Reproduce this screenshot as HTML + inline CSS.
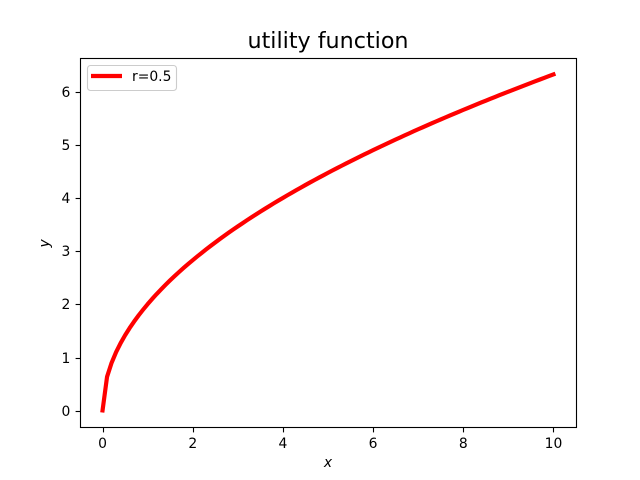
<!DOCTYPE html>
<html>
<head>
<meta charset="utf-8">
<style>
html,body{margin:0;padding:0;background:#fff;}
svg{display:block;}
text{font-family:"DejaVu Sans","Liberation Sans",sans-serif;fill:#000;}
</style>
</head>
<body>
<svg id="chart" xmlns="http://www.w3.org/2000/svg" width="640" height="480" viewBox="0 0 640 480"></svg>
<script>
const xValues = [0,0.1,0.2,0.3,0.4,0.5,0.6,0.7,0.8,0.9,1,1.1,1.2,1.3,1.4,1.5,1.6,1.7,1.8,1.9,2,2.1,2.2,2.3,2.4,2.5,2.6,2.7,2.8,2.9,3,3.1,3.2,3.3,3.4,3.5,3.6,3.7,3.8,3.9,4,4.1,4.2,4.3,4.4,4.5,4.6,4.7,4.8,4.9,5,5.1,5.2,5.3,5.4,5.5,5.6,5.7,5.8,5.9,6,6.1,6.2,6.3,6.4,6.5,6.6,6.7,6.8,6.9,7,7.1,7.2,7.3,7.4,7.5,7.6,7.7,7.8,7.9,8,8.1,8.2,8.3,8.4,8.5,8.6,8.7,8.8,8.9,9,9.1,9.2,9.3,9.4,9.5,9.6,9.7,9.8,9.9,10];
const yValues = [0,0.632,0.894,1.095,1.265,1.414,1.549,1.673,1.789,1.897,2,2.098,2.191,2.28,2.366,2.449,2.53,2.608,2.683,2.757,2.828,2.898,2.966,3.033,3.098,3.162,3.225,3.286,3.347,3.406,3.464,3.521,3.578,3.633,3.688,3.742,3.795,3.847,3.899,3.95,4,4.05,4.099,4.147,4.195,4.243,4.29,4.336,4.382,4.427,4.472,4.517,4.561,4.604,4.648,4.69,4.733,4.775,4.817,4.858,4.899,4.94,4.98,5.02,5.06,5.099,5.138,5.177,5.215,5.254,5.292,5.329,5.367,5.404,5.441,5.477,5.514,5.55,5.586,5.621,5.657,5.692,5.727,5.762,5.797,5.831,5.865,5.899,5.933,5.967,6,6.033,6.066,6.099,6.132,6.164,6.197,6.229,6.261,6.293,6.325];
const xTicks = [0,2,4,6,8,10];
const yTicks = [0,1,2,3,4,5,6];
const seriesLabel = "r=0.5";
const chartTitle = "utility function";

const NS = "http://www.w3.org/2000/svg";
const svg = document.getElementById("chart");
const plot = {left:80,right:576,top:57.6,bottom:427.2};

const xMinData = Math.min(...xValues), xMaxData = Math.max(...xValues);
const yMinData = Math.min(...yValues), yMaxData = Math.max(...yValues);
const xPad = (xMaxData-xMinData)*0.05, yPad = (yMaxData-yMinData)*0.05;
function xScale(v){return plot.left+(v-(xMinData-xPad))/((xMaxData+xPad)-(xMinData-xPad))*(plot.right-plot.left);}
function yScale(v){return plot.bottom-(v-(yMinData-yPad))/((yMaxData+yPad)-(yMinData-yPad))*(plot.bottom-plot.top);}

function make(tag,attrs,text){
  const el=document.createElementNS(NS,tag);
  for(const k in attrs){el.setAttribute(k,attrs[k]);}
  if(text!==undefined){el.textContent=text;}
  svg.appendChild(el);
  return el;
}

const bg=make("rect",{x:0,y:0,width:640,height:480,fill:"#fff"});



const curve=make("polyline",{
  points:xValues.map((x,i)=>xScale(x).toFixed(2)+","+yScale(yValues[i]).toFixed(2)).join(" "),
  fill:"none",stroke:"#ff0000","stroke-width":4.17,"stroke-linejoin":"round","stroke-linecap":"square"
});



const frame=make("rect",{x:80.5,y:58.5,width:496,height:369,fill:"none",stroke:"#000","stroke-width":1.11});



xTicks.forEach(function(t){
  const px=Math.round(xScale(t))+0.5;
  const tick=make("line",{x1:px,x2:px,y1:427.5,y2:432.4,stroke:"#000","stroke-width":1.11});
  
  
  const lab=make("text",{x:xScale(t),y:448,"text-anchor":"middle","font-size":13.89},String(t));
  
  
});

yTicks.forEach(function(t){
  const row=Math.round(yScale(t)+0.3);
  const tick=make("line",{x1:plot.left-4.4,x2:plot.left+0.5,y1:row+0.5,y2:row+0.5,stroke:"#000","stroke-width":1.11});
  
  
  const lab=make("text",{x:plot.left-9.7,y:row+5,"text-anchor":"end","font-size":13.89},String(t));
  
  
});

const title=make("text",{x:328,y:48,"text-anchor":"middle","font-size":22.22},chartTitle);



const xTitle=make("text",{x:328,y:467,"text-anchor":"middle","font-size":13.89,"font-style":"italic"},"x");



const yTitle=make("text",{x:0,y:0,"text-anchor":"middle","font-size":13.89,"font-style":"italic",transform:"translate(49,243.4) rotate(-90)"},"y");



const legendBox=make("rect",{x:87.5,y:65.5,width:89,height:25,rx:3,ry:3,fill:"#fff","fill-opacity":0.8,stroke:"#cccccc","stroke-width":1.11});



const legendLine=make("line",{x1:91,x2:122,y1:76,y2:76,stroke:"#ff0000","stroke-width":4.17});



const legendText=make("text",{x:132,y:81,"font-size":13.89},seriesLabel);


</script>
</body>
</html>
